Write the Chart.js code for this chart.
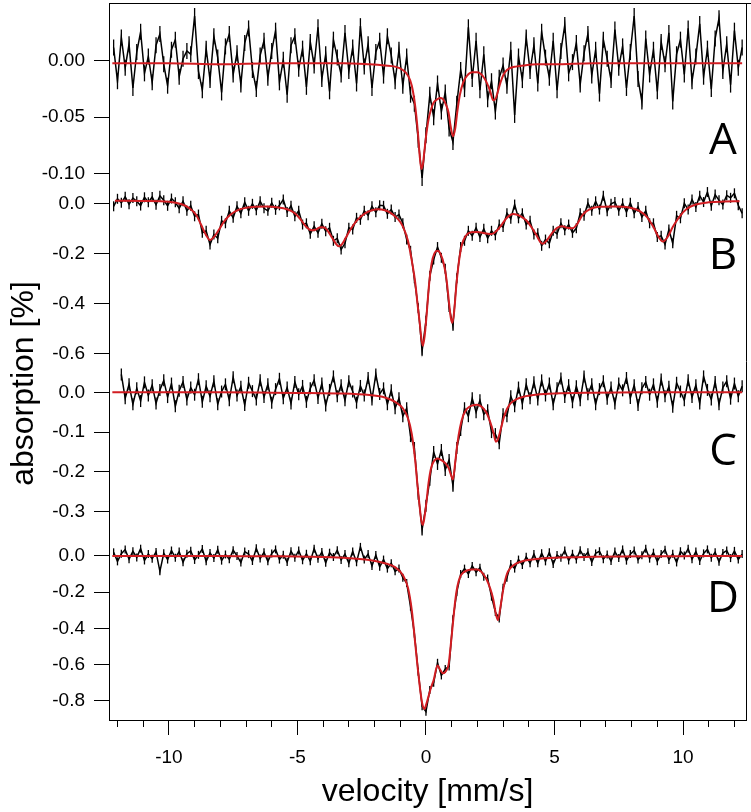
<!DOCTYPE html>
<html>
<head>
<meta charset="utf-8">
<style>
	body { margin: 0; background: #fff; }
	canvas { display: block; }
</style>
</head>
<body>
<canvas id="spectra" width="751" height="812"></canvas>

<script src="https://cdn.jsdelivr.net/npm/chart.js"></script>

<script>
	// velocity channels of the measured spectra (mm/s)
	var velocity = [
		-12.15, -12.0, -11.85, -11.7, -11.55, -11.4, -11.25, -11.1, -10.95, -10.8,
		-10.65, -10.5, -10.35, -10.2, -10.05, -9.9, -9.75, -9.6, -9.45, -9.3,
		-9.15, -9.0, -8.85, -8.7, -8.55, -8.4, -8.25, -8.1, -7.95, -7.8,
		-7.65, -7.5, -7.35, -7.2, -7.05, -6.9, -6.75, -6.6, -6.45, -6.3,
		-6.15, -6.0, -5.85, -5.7, -5.55, -5.4, -5.25, -5.1, -4.95, -4.8,
		-4.65, -4.5, -4.35, -4.2, -4.05, -3.9, -3.75, -3.6, -3.45, -3.3,
		-3.15, -3.0, -2.85, -2.7, -2.55, -2.4, -2.25, -2.1, -1.95, -1.8,
		-1.65, -1.5, -1.35, -1.2, -1.05, -0.9, -0.75, -0.6, -0.45, -0.3,
		-0.15, 0.0, 0.15, 0.3, 0.45, 0.6, 0.75, 0.9, 1.05, 1.2,
		1.35, 1.5, 1.65, 1.8, 1.95, 2.1, 2.25, 2.4, 2.55, 2.7,
		2.85, 3.0, 3.15, 3.3, 3.45, 3.6, 3.75, 3.9, 4.05, 4.2,
		4.35, 4.5, 4.65, 4.8, 4.95, 5.1, 5.25, 5.4, 5.55, 5.7,
		5.85, 6.0, 6.15, 6.3, 6.45, 6.6, 6.75, 6.9, 7.05, 7.2,
		7.35, 7.5, 7.65, 7.8, 7.95, 8.1, 8.25, 8.4, 8.55, 8.7,
		8.85, 9.0, 9.15, 9.3, 9.45, 9.6, 9.75, 9.9, 10.05, 10.2,
		10.35, 10.5, 10.65, 10.8, 10.95, 11.1, 11.25, 11.4, 11.55, 11.7,
		11.85, 12.0, 12.15, 12.3
	];

	// measured absorption (%), one array per sample
	var absA = [
		0.012, -0.018, 0.021, -0.006, 0.015, -0.024, 0.008, 0.026, -0.011, 0.004,
		-0.019, 0.014, 0.024, -0.003, -0.022, 0.010, 0.019, -0.014, 0.002, 0.009,
		0.006, 0.040, -0.009, -0.026, 0.011, -0.017, 0.022, 0.003, -0.028, 0.013,
		0.024, -0.012, 0.007, -0.021, 0.016, 0.029, -0.008, -0.025, 0.005, 0.018,
		-0.015, 0.009, 0.027, -0.019, 0.001, -0.030, 0.014, 0.022, -0.007, 0.011,
		-0.023, 0.017, -0.004, 0.030, -0.016, 0.006, -0.027, 0.019, 0.003, -0.012,
		0.025, -0.009, 0.012, -0.020, 0.031, -0.005, 0.015, -0.024, 0.008, 0.018,
		-0.013, 0.022, 0.005, -0.018, 0.010, -0.022, 0.004, -0.030, -0.038, -0.070,
		-0.104, -0.066, -0.030, -0.050, -0.020, -0.045, -0.028, -0.060, -0.072, -0.038,
		-0.008, -0.025, 0.030, -0.016, 0.018, -0.026, 0.006, -0.034, -0.018, -0.045,
		-0.015, -0.004, -0.022, 0.010, -0.048, 0.004, -0.017, 0.021, -0.009, 0.014,
		-0.020, 0.026, 0.003, -0.015, 0.018, -0.026, 0.009, 0.032, -0.011, -0.001,
		0.016, -0.021, 0.007, 0.024, -0.013, 0.010, -0.029, 0.019, 0.002, -0.017,
		0.028, -0.006, 0.013, -0.024, 0.008, 0.040, -0.016, -0.036, 0.020, -0.012,
		0.010, -0.027, 0.017, -0.003, 0.025, -0.036, 0.006, 0.019, -0.012, 0.029,
		-0.018, 0.004, 0.033, -0.014, 0.011, -0.025, 0.020, 0.038, -0.009, 0.015,
		-0.021, 0.027, -0.006, 0.012
	];
	var absB = [
		-0.012, 0.018, 0.002, 0.026, -0.004, 0.021, 0.008, -0.009, 0.024, 0.004,
		0.025, -0.006, 0.030, 0.012, -0.010, 0.019, 0.004, -0.020, 0.008, -0.030,
		-0.010, -0.052, -0.045, -0.118, -0.110, -0.165, -0.125, -0.140, -0.070, -0.080,
		-0.030, -0.058, -0.012, -0.040, 0.004, -0.030, -0.002, -0.028, 0.008, -0.020,
		-0.030, 0.002, -0.026, -0.008, 0.015, -0.035, -0.010, -0.052, -0.030, -0.085,
		-0.080, -0.122, -0.092, -0.118, -0.082, -0.112, -0.098, -0.150, -0.140, -0.185,
		-0.160, -0.098, -0.105, -0.058, -0.066, -0.030, -0.048, -0.012, -0.036, -0.008,
		-0.010, -0.042, -0.025, -0.055, -0.045, -0.080, -0.145, -0.190, -0.300, -0.420,
		-0.590, -0.470, -0.290, -0.225, -0.175, -0.218, -0.262, -0.415, -0.490, -0.300,
		-0.175, -0.150, -0.110, -0.130, -0.098, -0.135, -0.102, -0.140, -0.110, -0.128,
		-0.085, -0.095, -0.040, -0.062, -0.005, -0.060, -0.040, -0.085, -0.070, -0.125,
		-0.120, -0.170, -0.145, -0.160, -0.110, -0.122, -0.080, -0.108, -0.085, -0.118,
		-0.100, -0.040, -0.050, 0.000, -0.030, 0.008, -0.025, 0.030, -0.032, -0.002,
		0.005, -0.030, 0.000, -0.035, 0.002, -0.040, -0.015, -0.055, -0.030, -0.080,
		-0.080, -0.135, -0.130, -0.165, -0.105, -0.160, -0.050, -0.060, 0.000, -0.025,
		0.015, -0.015, 0.030, 0.005, 0.045, -0.010, 0.035, 0.012, -0.005, 0.032,
		0.022, 0.040, -0.008, -0.040
	];
	var absC = [
		null, null, 0.045, -0.015, 0.020, -0.030, 0.010, -0.022, 0.025, -0.008,
		0.018, -0.028, 0.006, 0.030, -0.012, 0.022, -0.035, 0.004, 0.026, -0.018,
		0.012, -0.006, 0.033, -0.024, 0.015, -0.010, 0.028, -0.030, 0.002, 0.020,
		-0.020, 0.038, -0.008, 0.014, -0.032, 0.024, 0.003, -0.018, 0.030, -0.012,
		0.020, -0.026, 0.008, 0.034, -0.015, 0.012, -0.028, 0.026, -0.005, 0.016,
		-0.024, 0.010, 0.030, -0.014, 0.022, -0.033, 0.006, 0.040, -0.010, 0.018,
		-0.020, 0.028, 0.002, -0.026, 0.016, -0.008, 0.036, -0.018, 0.045, -0.004,
		0.010, -0.030, 0.005, -0.040, -0.015, -0.060, -0.040, -0.110, -0.140, -0.255,
		-0.345, -0.285, -0.220, -0.150, -0.180, -0.145, -0.195, -0.170, -0.235, -0.140,
		-0.095, -0.040, -0.060, -0.015, -0.050, -0.020, -0.055, -0.045, -0.100, -0.105,
		-0.128, -0.055, -0.060, -0.010, -0.035, 0.012, -0.028, 0.020, -0.015, 0.025,
		-0.018, 0.030, -0.008, 0.022, -0.030, 0.010, 0.035, -0.012, 0.018, -0.025,
		0.015, -0.020, 0.040, -0.005, 0.020, -0.030, 0.008, 0.028, -0.016, 0.012,
		-0.028, 0.022, 0.005, 0.036, -0.014, 0.018, -0.032, 0.010, 0.026, -0.006,
		0.020, -0.024, 0.032, -0.010, 0.014, -0.036, 0.024, 0.002, -0.020, 0.030,
		-0.012, 0.018, -0.028, 0.040, 0.006, -0.018, 0.026, -0.030, 0.012, 0.028,
		-0.016, 0.022, -0.010, 0.015
	];
	var absD = [
		0.020, -0.030, 0.012, 0.035, -0.018, 0.026, -0.008, 0.040, -0.025, 0.010,
		-0.015, 0.022, -0.085, 0.015, -0.020, 0.030, -0.010, 0.024, -0.035, 0.012,
		0.028, -0.022, 0.006, 0.038, -0.030, 0.016, -0.012, 0.034, -0.026, 0.008,
		-0.018, 0.032, 0.000, -0.036, 0.024, 0.010, -0.028, 0.042, -0.014, 0.020,
		-0.030, 0.014, 0.036, -0.020, 0.006, -0.034, 0.026, -0.010, 0.030, -0.024,
		0.012, -0.030, 0.040, -0.016, 0.022, -0.038, 0.018, -0.006, 0.032, -0.022,
		0.010, -0.040, 0.025, -0.035, 0.050, -0.020, 0.010, -0.055, 0.005, -0.060,
		-0.020, -0.070, -0.040, -0.085, -0.070, -0.120, -0.150, -0.280, -0.430, -0.640,
		-0.830, -0.860, -0.740, -0.700, -0.590, -0.660, -0.625, -0.610, -0.350, -0.200,
		-0.100, -0.070, -0.100, -0.055, -0.090, -0.065, -0.115, -0.125, -0.225, -0.310,
		-0.345, -0.175, -0.120, -0.045, -0.070, -0.020, -0.050, -0.005, -0.040, 0.010,
		-0.040, 0.015, -0.030, 0.020, -0.045, 0.005, -0.010, 0.030, -0.025, 0.012,
		-0.020, 0.032, -0.006, 0.020, -0.034, 0.014, 0.026, -0.018, 0.008, -0.028,
		0.024, -0.012, 0.036, -0.026, 0.010, 0.030, -0.020, 0.004, 0.040, -0.015,
		0.018, -0.030, 0.010, 0.034, -0.022, 0.012, -0.036, 0.026, 0.002, 0.040,
		-0.018, 0.024, -0.028, 0.014, 0.036, -0.010, 0.020, -0.032, 0.016, 0.030,
		-0.012, 0.028, -0.020, 0.010
	];

	// fitted curves (red): velocities and values
	var fitV = [
		-12.2, -10, -8, -6, -4.5, -3.2, -2.2, -1.6, -1.2, -0.9,
		-0.7, -0.55, -0.42, -0.32, -0.24, -0.18, -0.12, -0.06, 0.02, 0.1,
		0.2, 0.3, 0.45, 0.56, 0.66, 0.78, 0.88, 0.96, 1.05, 1.14,
		1.22, 1.32, 1.45, 1.6, 1.8, 2.0, 2.2, 2.36, 2.5, 2.62,
		2.72, 2.8, 2.9, 3.02, 3.15, 3.3, 3.5, 3.8, 4.3, 5,
		6.5, 8.5, 10.5, 12.3
	];
	var fitA = [
		-0.002, -0.002, -0.003, -0.002, -0.002, -0.002, -0.003, -0.004, -0.005, -0.008,
		-0.013, -0.022, -0.040, -0.062, -0.085, -0.096, -0.092, -0.080, -0.064, -0.052,
		-0.043, -0.037, -0.034, -0.033, -0.034, -0.039, -0.046, -0.058, -0.067, -0.060,
		-0.045, -0.030, -0.019, -0.013, -0.010, -0.010, -0.013, -0.019, -0.027, -0.035,
		-0.033, -0.027, -0.019, -0.012, -0.008, -0.006, -0.005, -0.004, -0.003, -0.003,
		-0.002, -0.002, -0.002, -0.002
	];
	var fitC = [
		0.000, 0.000, 0.000, -0.001, -0.002, -0.003, -0.007, -0.013, -0.024, -0.040,
		-0.065, -0.105, -0.170, -0.240, -0.290, -0.322, -0.333, -0.315, -0.275, -0.228,
		-0.190, -0.174, -0.166, -0.169, -0.173, -0.180, -0.190, -0.205, -0.219, -0.175,
		-0.130, -0.090, -0.058, -0.041, -0.033, -0.031, -0.038, -0.052, -0.075, -0.100,
		-0.124, -0.118, -0.095, -0.065, -0.042, -0.027, -0.018, -0.011, -0.006, -0.003,
		-0.001, 0.000, 0.000, 0.000
	];
	var fitD = [
		0.000, 0.000, -0.001, -0.002, -0.004, -0.010, -0.022, -0.040, -0.062, -0.105,
		-0.175, -0.300, -0.480, -0.620, -0.720, -0.785, -0.830, -0.845, -0.815, -0.775,
		-0.725, -0.685, -0.605, -0.630, -0.648, -0.635, -0.600, -0.500, -0.370, -0.245,
		-0.170, -0.118, -0.092, -0.080, -0.075, -0.075, -0.095, -0.130, -0.180, -0.240,
		-0.320, -0.354, -0.280, -0.175, -0.100, -0.065, -0.042, -0.027, -0.017, -0.010,
		-0.005, -0.002, -0.001, 0.000
	];
	var fitVB = [
		-12.1, -11.0, -10.0, -9.5, -9.2, -8.95, -8.75, -8.55, -8.4, -8.25,
		-8.05, -7.85, -7.6, -7.3, -7.0, -6.6, -6.2, -5.8, -5.4, -5.1,
		-4.85, -4.65, -4.45, -4.3, -4.1, -3.95, -3.8, -3.65, -3.5, -3.4,
		-3.28, -3.12, -2.95, -2.7, -2.4, -2.1, -1.85, -1.6, -1.35, -1.1,
		-0.9, -0.7, -0.55, -0.42, -0.32, -0.24, -0.18, -0.12, -0.05, 0.03,
		0.12, 0.22, 0.33, 0.45, 0.58, 0.7, 0.8, 0.9, 0.97, 1.03,
		1.1, 1.18, 1.28, 1.4, 1.55, 1.75, 2.0, 2.2, 2.4, 2.56,
		2.75, 2.95, 3.15, 3.4, 3.65, 3.9, 4.1, 4.3, 4.45, 4.55,
		4.7, 4.9, 5.1, 5.3, 5.5, 5.7, 5.9, 6.1, 6.4, 6.8,
		7.3, 7.9, 8.3, 8.6, 8.85, 9.05, 9.22, 9.4, 9.6, 9.85,
		10.15, 10.5, 11.0, 11.6, 12.2
	];
	var fitB = [
		0.010, 0.009, 0.006, -0.004, -0.020, -0.045, -0.085, -0.128, -0.147, -0.135,
		-0.105, -0.072, -0.045, -0.026, -0.018, -0.014, -0.013, -0.016, -0.024, -0.040,
		-0.068, -0.095, -0.108, -0.106, -0.096, -0.097, -0.113, -0.138, -0.162, -0.172,
		-0.165, -0.138, -0.107, -0.070, -0.042, -0.028, -0.024, -0.028, -0.040, -0.062,
		-0.092, -0.150, -0.230, -0.315, -0.410, -0.480, -0.540, -0.570, -0.530, -0.440,
		-0.325, -0.240, -0.200, -0.190, -0.205, -0.245, -0.305, -0.400, -0.460, -0.478,
		-0.430, -0.330, -0.235, -0.165, -0.130, -0.116, -0.115, -0.118, -0.122, -0.123,
		-0.110, -0.085, -0.058, -0.043, -0.050, -0.068, -0.095, -0.128, -0.155, -0.162,
		-0.148, -0.120, -0.098, -0.092, -0.098, -0.100, -0.080, -0.045, -0.022, -0.014,
		-0.013, -0.017, -0.030, -0.055, -0.095, -0.135, -0.153, -0.135, -0.095, -0.055,
		-0.022, -0.005, 0.004, 0.007, 0.008
	];

	// axis ticks
	var xMajorTicks = [-10, -5, 0, 5, 10];
	var xMinorTicks = [-12, -11, -10, -9, -8, -7, -6, -5, -4, -3, -2, -1, 0, 1, 2, 3, 4, 5, 6, 7, 8, 9, 10, 11, 12];
	var ticksA = [-0.10, -0.05, 0];
	var ticksB = [-0.6, -0.4, -0.2, 0];
	var ticksC = [-0.3, -0.2, -0.1, 0];
	var ticksD = [-0.8, -0.6, -0.4, -0.2, 0];
	var panelLetters = ['A', 'B', 'C', 'D'];

	var tickFont = { family: 'Liberation Sans', size: 19 };

	function pts(xs, ys) {
		return xs.map(function (v, i) { return { x: v, y: ys[i] }; });
	}

	function panelAxis(min, max, ticks, dec, weight) {
		return {
			type: 'linear',
			position: 'left',
			stack: 'panels',
			stackWeight: weight,
			min: min,
			max: max,
			afterBuildTicks: function (s) { s.ticks = ticks.map(function (v) { return { value: v }; }); },
			afterFit: function (s) {
				s.width = 109;
				s.paddingTop = 0;
				s.paddingBottom = 0;
			},
			ticks: {
				font: tickFont,
				color: '#000',
				padding: 9,
				autoSkip: false,
				callback: function (v) { return Number(v).toFixed(dec); }
			},
			grid: { drawOnChartArea: false, tickLength: 15, color: '#000' },
			border: { color: '#000', width: 1 }
		};
	}

	// measured points drawn as a trace with vertical error-bar ticks
	function measured(data, axis, bar) {
		return {
			data: pts(velocity, data),
			yAxisID: axis,
			xAxisID: 'x',
			borderColor: '#000',
			borderWidth: 1.5,
			pointStyle: 'line',
			rotation: 90,
			pointRadius: bar,
			pointBorderWidth: 1.3,
			pointBorderColor: '#000',
			pointHoverRadius: 0,
			tension: 0,
			clip: false,
			order: 2
		};
	}

	function fitted(xs, data, axis) {
		return {
			data: pts(xs, data),
			yAxisID: axis,
			xAxisID: 'x',
			borderColor: '#d21d22',
			borderWidth: 2,
			pointRadius: 0,
			cubicInterpolationMode: 'monotone',
			clip: false,
			order: 1
		};
	}

	// frame, panel letters and the y title
	var decor = {
		id: 'decor',
		afterDraw: function (chart) {
			var ctx = chart.ctx;
			var a = chart.chartArea;
			ctx.save();
			ctx.strokeStyle = '#000';
			ctx.lineWidth = 1;
			ctx.beginPath();
			ctx.moveTo(a.left, a.top + 0.5);
			ctx.lineTo(chart.width, a.top + 0.5);
			ctx.moveTo(a.right + 0.5, a.top);
			ctx.lineTo(a.right + 0.5, a.bottom);
			ctx.stroke();

			ctx.fillStyle = '#000';
			ctx.font = '44px "Open Sans"';
			ctx.textAlign = 'center';
			ctx.textBaseline = 'middle';
			var letterPos = [0.746, 0.364, 0.467, 0.333];
			['yA', 'yB', 'yC', 'yD'].forEach(function (id, i) {
				var s = chart.scales[id];
				ctx.fillText(panelLetters[i], a.right - 23, s.top + letterPos[i] * (s.bottom - s.top));
			});

			ctx.font = '32px "Liberation Sans"';
			ctx.textBaseline = 'alphabetic';
			ctx.translate(33, (a.top + a.bottom) / 2 + 22);
			ctx.rotate(-Math.PI / 2);
			ctx.fillText('absorption [%]', 0, 0);
			ctx.restore();
		}
	};

	new Chart(document.getElementById('spectra'), {
		type: 'line',
		data: {
			datasets: [
				measured(absA, 'yA', 8),
				fitted(fitV, fitA, 'yA'),
				measured(absB, 'yB', 5),
				fitted(fitVB, fitB, 'yB'),
				measured(absC, 'yC', 6),
				fitted(fitV, fitC, 'yC'),
				measured(absD, 'yD', 4),
				fitted(fitV, fitD, 'yD')
			]
		},
		options: {
			responsive: false,
			animation: false,
			events: [],
			layout: { autoPadding: false, padding: { top: 3, right: 5, left: 0, bottom: 0 } },
			plugins: { legend: { display: false }, tooltip: { enabled: false } },
			scales: {
				x: {
					type: 'linear',
					position: 'bottom',
					weight: 1,
					min: -12.33,
					max: 12.45,
					afterBuildTicks: function (s) { s.ticks = xMajorTicks.map(function (v) { return { value: v }; }); },
					afterFit: function (s) {
						s.height = 92;
						s.paddingLeft = 0;
						s.paddingRight = 0;
					},
					ticks: { font: tickFont, color: '#000', padding: 11, maxRotation: 0 },
					grid: { drawOnChartArea: false, tickLength: 15, color: '#000' },
					border: { color: '#000' },
					title: {
						display: true,
						text: 'velocity [mm/s]',
						color: '#000',
						font: { family: 'Liberation Sans', size: 32 },
						padding: { top: 0, bottom: 1 }
					}
				},
				xMinor: {
					type: 'linear',
					position: 'bottom',
					weight: 0,
					min: -12.33,
					max: 12.45,
					afterBuildTicks: function (s) { s.ticks = xMinorTicks.map(function (v) { return { value: v }; }); },
					afterFit: function (s) {
						s.height = 0;
						s.paddingLeft = 0;
						s.paddingRight = 0;
					},
					ticks: { display: false },
					grid: { drawOnChartArea: false, tickLength: 7, color: '#000' },
					border: { display: false }
				},
				yD: panelAxis(-0.906, 0.088, ticksD, 1, 180),
				yC: panelAxis(-0.3711, 0.0435, ticksC, 1, 165),
				yB: panelAxis(-0.6868, 0.0612, ticksB, 1, 187),
				yA: panelAxis(-0.113, 0.0516, ticksA, 2, 185)
			}
		},
		plugins: [decor]
	});
</script>
</body>
</html>
